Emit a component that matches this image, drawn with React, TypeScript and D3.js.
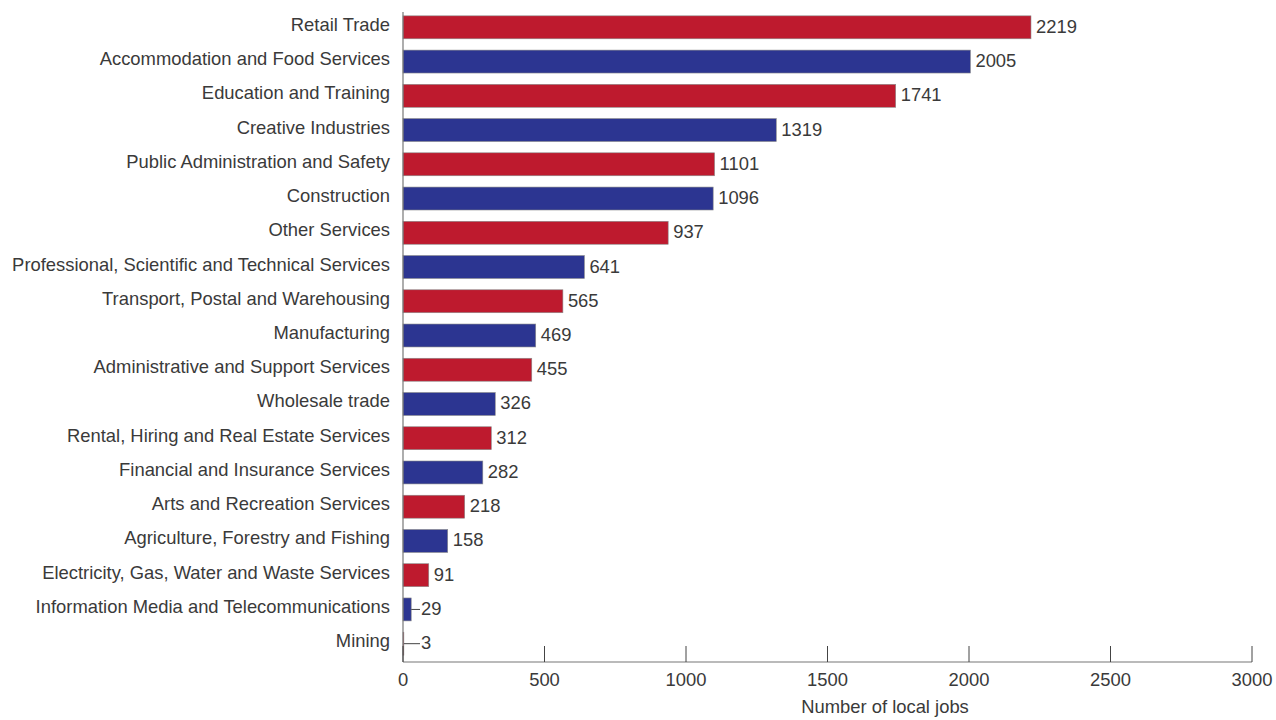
import React from "react";
import * as d3 from "d3";

const categories = [
  "Retail Trade",
  "Accommodation and Food Services",
  "Education and Training",
  "Creative Industries",
  "Public Administration and Safety",
  "Construction",
  "Other Services",
  "Professional, Scientific and Technical Services",
  "Transport, Postal and Warehousing",
  "Manufacturing",
  "Administrative and Support Services",
  "Wholesale trade",
  "Rental, Hiring and Real Estate Services",
  "Financial and Insurance Services",
  "Arts and Recreation Services",
  "Agriculture, Forestry and Fishing",
  "Electricity, Gas, Water and Waste Services",
  "Information Media and Telecommunications",
  "Mining",
];
const values = [2219, 2005, 1741, 1319, 1101, 1096, 937, 641, 565, 469, 455, 326, 312, 282, 218, 158, 91, 29, 3];
const xTicks = [0, 500, 1000, 1500, 2000, 2500, 3000];
const colors = ["#be1a2e", "#2c3591"];
const axisTitle = "Number of local jobs";

const W = 1276;
const H = 720;
const FONT = "'Liberation Sans', Arial, sans-serif";
const FS = 18.4;

export default function App() {
  const x = d3.scaleLinear().domain([0, 3000]).range([403, 1252]);
  const y = d3
    .scaleBand<string>()
    .domain(categories)
    .range([9, 662])
    .paddingInner(0.33)
    .paddingOuter(0.2);
  const bh = y.bandwidth();
  const axisY = 662;
  const labelMinX = 421;

  return (
    <svg
      width={W}
      height={H}
      style={{ position: "absolute", left: 0, top: 0, background: "#fff" }}
      fontFamily={FONT}
    >
      {categories.map((c, i) => {
        const yc = (y(c) as number) + bh / 2;
        const xe = x(values[i]);
        const needLeader = xe + 5 < labelMinX;
        const lx = needLeader ? labelMinX : xe + 5;
        return (
          <g key={c}>
            <rect
              x={x(0)}
              y={y(c)}
              width={Math.max(0, xe - x(0))}
              height={bh}
              fill={colors[i % 2]}
              stroke="#8a8a8a"
              strokeWidth={0.6}
            />
            <text
              x={390}
              y={yc - 3}
              textAnchor="end"
              dominantBaseline="central"
              fontSize={FS}
              fill="#3a3a3a"
            >
              {c}
            </text>
            {needLeader && (
              <line x1={xe} x2={lx - 1} y1={yc} y2={yc} stroke="#444" strokeWidth={1} />
            )}
            <text x={lx} y={yc - 1} dominantBaseline="central" fontSize={FS} fill="#3a3a3a">
              {values[i]}
            </text>
          </g>
        );
      })}
      <line x1={x(0)} x2={x(0)} y1={12} y2={axisY} stroke="#777" strokeWidth={1.2} />
      <line x1={x(0)} x2={x(3000)} y1={axisY} y2={axisY} stroke="#777" strokeWidth={1.2} />
      {xTicks.map((t) => (
        <g key={t}>
          <line x1={x(t)} x2={x(t)} y1={axisY - 16} y2={axisY} stroke="#444" strokeWidth={1} />
          <text x={x(t)} y={679} textAnchor="middle" dominantBaseline="central" fontSize={FS} fill="#3a3a3a">
            {t}
          </text>
        </g>
      ))}
      <text x={885} y={706} textAnchor="middle" dominantBaseline="central" fontSize={FS} fill="#3a3a3a">
        {axisTitle}
      </text>
    </svg>
  );
}
